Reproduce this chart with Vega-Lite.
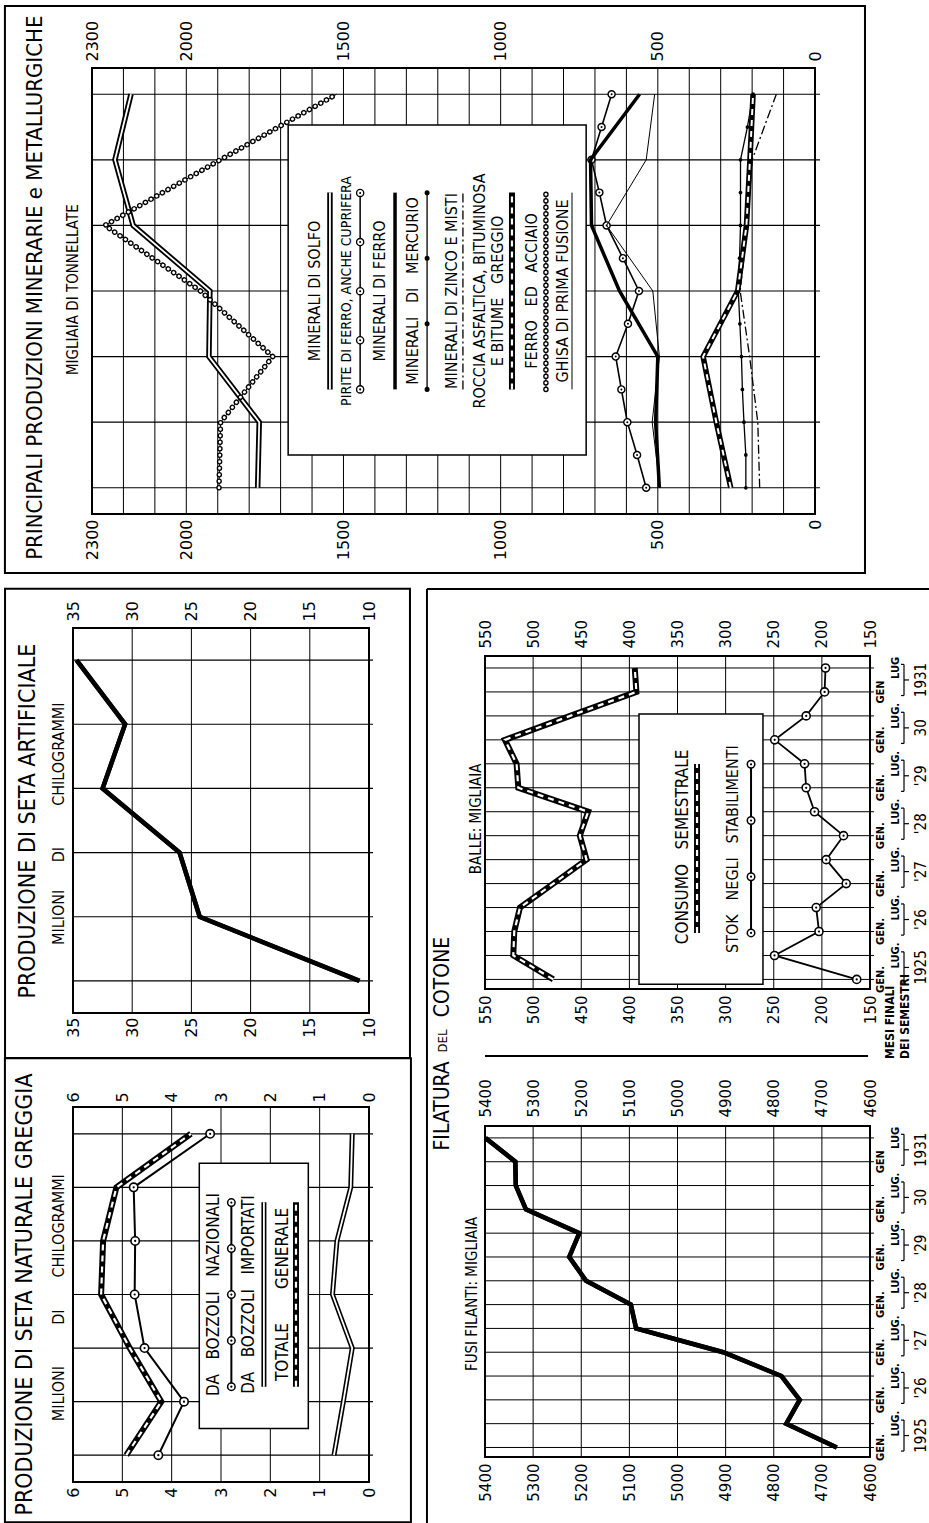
{
"background": "white",
"padding": {"left": 1, "top": 4, "right": 0, "bottom": 0},
"config": {
 "view": {"stroke": "black", "strokeWidth": 2},
 "axis": {"grid": false, "domain": false, "ticks": false, "labelColor": "black", "labelFont": "DejaVu Sans", "labelFlush": false, "labelOverlap": false},
 "line": {"color": "black"}, "rule": {"color": "black"}, "text": {"color": "black"}, "point": {"color": "black"}
},
"datasets": {
 "min": [
  {"s":"solfo","yr":1925,"v":1773},{"s":"solfo","yr":1926,"v":1768},{"s":"solfo","yr":1927,"v":1928},{"s":"solfo","yr":1928,"v":1925},{"s":"solfo","yr":1929,"v":2169},{"s":"solfo","yr":1930,"v":2227},{"s":"solfo","yr":1931,"v":2176},
  {"s":"acciaio","yr":1925,"v":1896},{"s":"acciaio","yr":1926,"v":1891},{"s":"acciaio","yr":1927,"v":1725},{"s":"acciaio","yr":1928,"v":1955},{"s":"acciaio","yr":1929,"v":2259},{"s":"acciaio","yr":1930,"v":1892},{"s":"acciaio","yr":1931,"v":1522},
  {"s":"pirite","yr":1925,"v":537},{"s":"pirite","yr":1925.5,"v":566},{"s":"pirite","yr":1926,"v":597},{"s":"pirite","yr":1926.5,"v":616},{"s":"pirite","yr":1927,"v":634},{"s":"pirite","yr":1927.5,"v":595},{"s":"pirite","yr":1928,"v":560},{"s":"pirite","yr":1928.5,"v":611},{"s":"pirite","yr":1929,"v":663},{"s":"pirite","yr":1929.5,"v":686},{"s":"pirite","yr":1930,"v":711},{"s":"pirite","yr":1930.5,"v":679},{"s":"pirite","yr":1931,"v":647},
  {"s":"ferro","yr":1925,"v":495},{"s":"ferro","yr":1926,"v":507},{"s":"ferro","yr":1927,"v":500},{"s":"ferro","yr":1928,"v":622},{"s":"ferro","yr":1929,"v":711},{"s":"ferro","yr":1930,"v":714},{"s":"ferro","yr":1931,"v":558},
  {"s":"ghisa","yr":1925,"v":493},{"s":"ghisa","yr":1926,"v":518},{"s":"ghisa","yr":1927,"v":495},{"s":"ghisa","yr":1928,"v":516},{"s":"ghisa","yr":1929,"v":663},{"s":"ghisa","yr":1930,"v":537},{"s":"ghisa","yr":1931,"v":510},
  {"s":"mercurio","yr":1925,"v":220},{"s":"mercurio","yr":1925.5,"v":220},{"s":"mercurio","yr":1926,"v":226},{"s":"mercurio","yr":1926.5,"v":231},{"s":"mercurio","yr":1927,"v":234},{"s":"mercurio","yr":1927.5,"v":239},{"s":"mercurio","yr":1928,"v":244},{"s":"mercurio","yr":1928.5,"v":240},{"s":"mercurio","yr":1929,"v":237},{"s":"mercurio","yr":1929.5,"v":237},{"s":"mercurio","yr":1930,"v":237},{"s":"mercurio","yr":1930.5,"v":215},{"s":"mercurio","yr":1931,"v":197},
  {"s":"zinco","yr":1925,"v":176},{"s":"zinco","yr":1926,"v":182},{"s":"zinco","yr":1927,"v":208},{"s":"zinco","yr":1928,"v":238},{"s":"zinco","yr":1929,"v":215},{"s":"zinco","yr":1930,"v":200},{"s":"zinco","yr":1931,"v":123},
  {"s":"roccia","yr":1925,"v":268},{"s":"roccia","yr":1926,"v":314},{"s":"roccia","yr":1927,"v":356},{"s":"roccia","yr":1928,"v":246},{"s":"roccia","yr":1929,"v":218},{"s":"roccia","yr":1930,"v":207},{"s":"roccia","yr":1931,"v":197}
 ],
 "sa": [{"yr":1926,"v":10.8},{"yr":1927,"v":24.3},{"yr":1928,"v":26.0},{"yr":1929,"v":32.5},{"yr":1930,"v":30.6},{"yr":1931,"v":34.7}],
 "sn": [
  {"s":"tot","yr":1925,"v":4.92},{"s":"tot","yr":1926,"v":4.21},{"s":"tot","yr":1927,"v":4.85},{"s":"tot","yr":1928,"v":5.43},{"s":"tot","yr":1929,"v":5.39},{"s":"tot","yr":1930,"v":5.12},{"s":"tot","yr":1931,"v":3.61},
  {"s":"naz","yr":1925,"v":4.27},{"s":"naz","yr":1926,"v":3.75},{"s":"naz","yr":1927,"v":4.55},{"s":"naz","yr":1928,"v":4.75},{"s":"naz","yr":1929,"v":4.74},{"s":"naz","yr":1930,"v":4.77},{"s":"naz","yr":1931,"v":3.22},
  {"s":"imp","yr":1925,"v":0.71},{"s":"imp","yr":1926,"v":0.52},{"s":"imp","yr":1927,"v":0.34},{"s":"imp","yr":1928,"v":0.74},{"s":"imp","yr":1929,"v":0.65},{"s":"imp","yr":1930,"v":0.37},{"s":"imp","yr":1931,"v":0.34}
 ],
 "balle": [
  {"s":"cons","t":0,"v":479},{"s":"cons","t":1,"v":520.6},{"s":"cons","t":2,"v":519.6},{"s":"cons","t":3,"v":513.7},{"s":"cons","t":4,"v":479},{"s":"cons","t":5,"v":444.5},{"s":"cons","t":6,"v":451.5},{"s":"cons","t":7,"v":442.8},{"s":"cons","t":8,"v":515.4},{"s":"cons","t":9,"v":517.2},{"s":"cons","t":10,"v":529.3},{"s":"cons","t":11,"v":461.5},{"s":"cons","t":12,"v":392.7},{"s":"cons","t":13,"v":394.4},
  {"s":"stok","t":0,"v":163.8},{"s":"stok","t":1,"v":249.2},{"s":"stok","t":2,"v":203},{"s":"stok","t":3,"v":205.9},{"s":"stok","t":4,"v":174.7},{"s":"stok","t":5,"v":195.5},{"s":"stok","t":6,"v":177.5},{"s":"stok","t":7,"v":207.6},{"s":"stok","t":8,"v":216.3},{"s":"stok","t":9,"v":218},{"s":"stok","t":10,"v":249},{"s":"stok","t":11,"v":216.3},{"s":"stok","t":12,"v":197.2},{"s":"stok","t":13,"v":196.2}
 ],
 "fusi": [{"t":0,"v":4669},{"t":1,"v":4774},{"t":2,"v":4746},{"t":3,"v":4784},{"t":4,"v":4905},{"t":5,"v":5086},{"t":6,"v":5097},{"t":7,"v":5190},{"t":8,"v":5225},{"t":9,"v":5204},{"t":10,"v":5315},{"t":11,"v":5336},{"t":12,"v":5337},{"t":13,"v":5399}],
 "sem": [{"t":0,"lab":"GEN."},{"t":1,"lab":"LUG."},{"t":2,"lab":"GEN."},{"t":3,"lab":"LUG."},{"t":4,"lab":"GEN."},{"t":5,"lab":"LUG."},{"t":6,"lab":"GEN."},{"t":7,"lab":"LUG."},{"t":8,"lab":"GEN."},{"t":9,"lab":"LUG."},{"t":10,"lab":"GEN."},{"t":11,"lab":"LUG."},{"t":12,"lab":"GEN"},{"t":13,"lab":"LUG"}],
 "anni": [{"t0":-0.15,"t1":1.15,"tm":0.5,"lab":"1925"},{"t0":1.85,"t1":3.15,"tm":2.5,"lab":"'26"},{"t0":3.85,"t1":5.15,"tm":4.5,"lab":"'27"},{"t0":5.85,"t1":7.15,"tm":6.5,"lab":"'28"},{"t0":7.85,"t1":9.15,"tm":8.5,"lab":"'29"},{"t0":9.85,"t1":11.15,"tm":10.5,"lab":"30"},{"t0":11.85,"t1":13.15,"tm":12.5,"lab":"1931"}],
 "yrs": [{"g":1925},{"g":1926},{"g":1927},{"g":1928},{"g":1929},{"g":1930},{"g":1931}],
 "g100": [{"g":0},{"g":100},{"g":200},{"g":300},{"g":400},{"g":500},{"g":600},{"g":700},{"g":800},{"g":900},{"g":1000},{"g":1100},{"g":1200},{"g":1300},{"g":1400},{"g":1500},{"g":1600},{"g":1700},{"g":1800},{"g":1900},{"g":2000},{"g":2100},{"g":2200}],
 "g5": [{"g":15},{"g":20},{"g":25},{"g":30}],
 "g1": [{"g":1},{"g":2},{"g":3},{"g":4},{"g":5}],
 "g50": [{"g":200},{"g":250},{"g":300},{"g":350},{"g":400},{"g":450},{"g":500}],
 "g100f": [{"g":4700},{"g":4800},{"g":4900},{"g":5000},{"g":5100},{"g":5200},{"g":5300}]
},
"spacing": 9,
"vconcat": [
 {"spacing": 0, "hconcat": [
  {"width": 1, "height": 1, "view": {"stroke": null}, "data": {"values": [{}]}, "mark": {"type": "rect", "opacity": 0}, "encoding": {}},
  {
  "width": 723, "height": 446,
  "data": {"name": "min"},
  "resolve": {"axis": {"x": "independent"}},
  "layer": [
   {"data": {"values": [{}]}, "mark": {"type": "rect", "filled": false, "stroke": "black", "strokeWidth": 2},
    "encoding": {"x": {"datum": 2577, "axis": null}, "x2": {"datum": -159}, "y": {"datum": 1923.7, "axis": null}, "y2": {"datum": 1932.345}}},
   {"data": {"name": "g100"}, "mark": {"type": "rule", "strokeWidth": 1},
    "encoding": {"x": {"field": "g", "type": "quantitative", "axis": null}, "y": {"datum": 1924.6, "axis": null}, "y2": {"datum": 1931.4}}},
   {"data": {"name": "yrs"}, "mark": {"type": "rule", "strokeWidth": 1.2},
    "encoding": {"y": {"field": "g", "type": "quantitative", "axis": null}, "x": {"datum": 2300, "axis": null}, "x2": {"datum": -16}}},
   {"transform": [{"filter": "datum.s == 'solfo'"}], "mark": {"type": "line", "strokeWidth": 5.5},
    "encoding": {
     "x": {"field": "v", "type": "quantitative", "scale": {"domain": [0, 2300], "reverse": true, "nice": false, "zero": false},
      "axis": {"orient": "bottom", "title": null, "values": [0,500,1000,1500,2000,2300], "format": "d", "labelAngle": 270, "labelAlign": "right", "labelBaseline": "middle", "labelPadding": 5, "labelFontSize": 16}},
     "y": {"field": "yr", "type": "quantitative", "scale": {"domain": [1924.6, 1931.4], "nice": false, "zero": false},
      "axis": {"orient": "right", "title": null, "values": [1925,1926,1927,1928,1929,1930,1931], "format": "d", "labelAngle": 270, "labelAlign": "center", "labelBaseline": "top", "labelPadding": 8, "labelFontSize": 15}},
     "order": {"field": "yr", "type": "quantitative"}}},
   {"transform": [{"filter": "datum.s == 'solfo'"}], "mark": {"type": "line", "strokeWidth": 1.8, "color": "white"},
    "encoding": {
     "x": {"field": "v", "type": "quantitative",
      "axis": {"orient": "top", "title": null, "values": [0,500,1000,1500,2000,2300], "format": "d", "labelAngle": 270, "labelAlign": "left", "labelBaseline": "middle", "labelPadding": 7, "labelFontSize": 16}},
     "y": {"field": "yr", "type": "quantitative", "axis": null},
     "order": {"field": "yr", "type": "quantitative"}}},
   {"transform": [{"filter": "datum.s == 'acciaio'"}], "mark": {"type": "line", "strokeWidth": 1},
    "encoding": {"x": {"field": "v", "type": "quantitative", "axis": null}, "y": {"field": "yr", "type": "quantitative", "axis": null}, "order": {"field": "yr", "type": "quantitative"}}},
   {"transform": [{"filter": "datum.s == 'acciaio'"}], "mark": {"type": "line", "strokeWidth": 5.5, "strokeDash": [0.1, 6.4], "strokeCap": "round"},
    "encoding": {"x": {"field": "v", "type": "quantitative", "axis": null}, "y": {"field": "yr", "type": "quantitative", "axis": null}, "order": {"field": "yr", "type": "quantitative"}}},
   {"transform": [{"filter": "datum.s == 'acciaio'"}], "mark": {"type": "line", "strokeWidth": 2.8, "strokeDash": [0.1, 6.4], "strokeCap": "round", "color": "white"},
    "encoding": {"x": {"field": "v", "type": "quantitative", "axis": null}, "y": {"field": "yr", "type": "quantitative", "axis": null}, "order": {"field": "yr", "type": "quantitative"}}},
   {"data": {"values": [{}]}, "mark": {"type": "rect", "fill": "white", "stroke": "black", "strokeWidth": 1.5},
    "encoding": {"x": {"datum": 1676, "axis": null}, "x2": {"datum": 728}, "y": {"datum": 1925.5, "axis": null}, "y2": {"datum": 1930.53}}},
   {"transform": [{"filter": "datum.s == 'pirite'"}], "mark": {"type": "line", "strokeWidth": 1.6},
    "encoding": {"x": {"field": "v", "type": "quantitative", "axis": null}, "y": {"field": "yr", "type": "quantitative", "axis": null}, "order": {"field": "yr", "type": "quantitative"}}},
   {"transform": [{"filter": "datum.s == 'pirite'"}], "mark": {"type": "point", "shape": "circle", "filled": true, "fill": "white", "stroke": "black", "strokeWidth": 1.4, "size": 50, "opacity": 1},
    "encoding": {"x": {"field": "v", "type": "quantitative", "axis": null}, "y": {"field": "yr", "type": "quantitative", "axis": null}}},
   {"transform": [{"filter": "datum.s == 'pirite'"}], "mark": {"type": "point", "shape": "circle", "filled": true, "color": "black", "size": 4, "opacity": 1},
    "encoding": {"x": {"field": "v", "type": "quantitative", "axis": null}, "y": {"field": "yr", "type": "quantitative", "axis": null}}},
   {"transform": [{"filter": "datum.s == 'ferro'"}], "mark": {"type": "line", "strokeWidth": 3.5},
    "encoding": {"x": {"field": "v", "type": "quantitative", "axis": null}, "y": {"field": "yr", "type": "quantitative", "axis": null}, "order": {"field": "yr", "type": "quantitative"}}},
   {"transform": [{"filter": "datum.s == 'ghisa'"}], "mark": {"type": "line", "strokeWidth": 1},
    "encoding": {"x": {"field": "v", "type": "quantitative", "axis": null}, "y": {"field": "yr", "type": "quantitative", "axis": null}, "order": {"field": "yr", "type": "quantitative"}}},
   {"transform": [{"filter": "datum.s == 'mercurio'"}], "mark": {"type": "line", "strokeWidth": 1.3},
    "encoding": {"x": {"field": "v", "type": "quantitative", "axis": null}, "y": {"field": "yr", "type": "quantitative", "axis": null}, "order": {"field": "yr", "type": "quantitative"}}},
   {"transform": [{"filter": "datum.s == 'mercurio'"}], "mark": {"type": "point", "shape": "circle", "filled": true, "size": 14, "opacity": 1},
    "encoding": {"x": {"field": "v", "type": "quantitative", "axis": null}, "y": {"field": "yr", "type": "quantitative", "axis": null}}},
   {"transform": [{"filter": "datum.s == 'zinco'"}], "mark": {"type": "line", "strokeWidth": 1.3, "strokeDash": [9, 3, 2, 3]},
    "encoding": {"x": {"field": "v", "type": "quantitative", "axis": null}, "y": {"field": "yr", "type": "quantitative", "axis": null}, "order": {"field": "yr", "type": "quantitative"}}},
   {"transform": [{"filter": "datum.s == 'roccia'"}], "mark": {"type": "line", "strokeWidth": 5.5},
    "encoding": {"x": {"field": "v", "type": "quantitative", "axis": null}, "y": {"field": "yr", "type": "quantitative", "axis": null}, "order": {"field": "yr", "type": "quantitative"}}},
   {"transform": [{"filter": "datum.s == 'roccia'"}], "mark": {"type": "line", "strokeWidth": 2, "strokeDash": [6, 5], "color": "white"},
    "encoding": {"x": {"field": "v", "type": "quantitative", "axis": null}, "y": {"field": "yr", "type": "quantitative", "axis": null}, "order": {"field": "yr", "type": "quantitative"}}},
   {"data": {"values": [{}]}, "mark": {"type": "text", "text": "PRINCIPALI PRODUZIONI MINERARIE e METALLURGICHE", "angle": 270, "align": "center", "baseline": "middle", "font": "Liberation Sans Narrow, DejaVu Sans Condensed, sans-serif", "fontSize": 22},
    "encoding": {"x": {"datum": 2481, "axis": null}, "y": {"datum": 1928.05, "axis": null}}},
   {"data": {"values": [{}]}, "mark": {"type": "text", "text": "MIGLIAIA DI TONNELLATE", "angle": 270, "align": "center", "baseline": "middle", "font": "Liberation Sans Narrow, DejaVu Sans Condensed, sans-serif", "fontSize": 15},
    "encoding": {"x": {"datum": 2362, "axis": null}, "y": {"datum": 1928.02, "axis": null}}},
   {"data": {"values": [{}]}, "mark": {"type": "text", "text": "MINERALI DI SOLFO", "angle": 270, "align": "center", "baseline": "middle", "font": "Liberation Sans Narrow, DejaVu Sans Condensed, sans-serif", "fontSize": 16},
    "encoding": {"x": {"datum": 1591, "axis": null}, "y": {"datum": 1928, "axis": null}}},
   {"data": {"values": [{}]}, "mark": {"type": "rule", "strokeWidth": 5.5},
    "encoding": {"x": {"datum": 1543, "axis": null}, "y": {"datum": 1926.5, "axis": null}, "y2": {"datum": 1929.5}}},
   {"data": {"values": [{}]}, "mark": {"type": "rule", "strokeWidth": 1.8, "color": "white"},
    "encoding": {"x": {"datum": 1543, "axis": null}, "y": {"datum": 1926.5, "axis": null}, "y2": {"datum": 1929.5}}},
   {"data": {"values": [{}]}, "mark": {"type": "text", "text": "PIRITE DI FERRO, ANCHE CUPRIFERA", "angle": 270, "align": "center", "baseline": "middle", "font": "Liberation Sans Narrow, DejaVu Sans Condensed, sans-serif", "fontSize": 14},
    "encoding": {"x": {"datum": 1489, "axis": null}, "y": {"datum": 1928, "axis": null}}},
   {"data": {"values": [{}]}, "mark": {"type": "rule", "strokeWidth": 1.5},
    "encoding": {"x": {"datum": 1447, "axis": null}, "y": {"datum": 1926.5, "axis": null}, "y2": {"datum": 1929.5}}},
   {"data": {"values": [{}]}, "mark": {"type": "rule", "strokeWidth": 8.5, "strokeDash": [0.01, 49.1], "strokeCap": "round"},
    "encoding": {"x": {"datum": 1447, "axis": null}, "y": {"datum": 1926.5, "axis": null}, "y2": {"datum": 1929.5}}},
   {"data": {"values": [{}]}, "mark": {"type": "rule", "strokeWidth": 5.8, "strokeDash": [0.01, 49.1], "strokeCap": "round", "color": "white"},
    "encoding": {"x": {"datum": 1447, "axis": null}, "y": {"datum": 1926.5, "axis": null}, "y2": {"datum": 1929.5}}},
   {"data": {"values": [{}]}, "mark": {"type": "rule", "strokeWidth": 2, "strokeDash": [0.01, 49.1], "strokeCap": "round"},
    "encoding": {"x": {"datum": 1447, "axis": null}, "y": {"datum": 1926.5, "axis": null}, "y2": {"datum": 1929.5}}},
   {"data": {"values": [{}]}, "mark": {"type": "text", "text": "MINERALI DI FERRO", "angle": 270, "align": "center", "baseline": "middle", "font": "Liberation Sans Narrow, DejaVu Sans Condensed, sans-serif", "fontSize": 16},
    "encoding": {"x": {"datum": 1384, "axis": null}, "y": {"datum": 1928, "axis": null}}},
   {"data": {"values": [{}]}, "mark": {"type": "rule", "strokeWidth": 3.5},
    "encoding": {"x": {"datum": 1336, "axis": null}, "y": {"datum": 1926.5, "axis": null}, "y2": {"datum": 1929.5}}},
   {"data": {"values": [{}]}, "mark": {"type": "text", "text": "MINERALI\u00a0\u00a0\u00a0DI\u00a0\u00a0\u00a0MERCURIO", "angle": 270, "align": "center", "baseline": "middle", "font": "Liberation Sans Narrow, DejaVu Sans Condensed, sans-serif", "fontSize": 16},
    "encoding": {"x": {"datum": 1279, "axis": null}, "y": {"datum": 1928, "axis": null}}},
   {"data": {"values": [{}]}, "mark": {"type": "rule", "strokeWidth": 1.3},
    "encoding": {"x": {"datum": 1234, "axis": null}, "y": {"datum": 1926.5, "axis": null}, "y2": {"datum": 1929.5}}},
   {"data": {"values": [{}]}, "mark": {"type": "rule", "strokeWidth": 5, "strokeDash": [0.01, 65.5], "strokeCap": "round"},
    "encoding": {"x": {"datum": 1234, "axis": null}, "y": {"datum": 1926.5, "axis": null}, "y2": {"datum": 1929.5}}},
   {"data": {"values": [{}]}, "mark": {"type": "text", "text": "MINERALI DI ZINCO E MISTI", "angle": 270, "align": "center", "baseline": "middle", "font": "Liberation Sans Narrow, DejaVu Sans Condensed, sans-serif", "fontSize": 16},
    "encoding": {"x": {"datum": 1155, "axis": null}, "y": {"datum": 1928, "axis": null}}},
   {"data": {"values": [{}]}, "mark": {"type": "rule", "strokeWidth": 1.3, "strokeDash": [9, 3, 2, 3]},
    "encoding": {"x": {"datum": 1120, "axis": null}, "y": {"datum": 1926.5, "axis": null}, "y2": {"datum": 1929.5}}},
   {"data": {"values": [{}]}, "mark": {"type": "text", "text": "ROCCIA ASFALTICA, BITUMINOSA", "angle": 270, "align": "center", "baseline": "middle", "font": "Liberation Sans Narrow, DejaVu Sans Condensed, sans-serif", "fontSize": 16},
    "encoding": {"x": {"datum": 1066, "axis": null}, "y": {"datum": 1928, "axis": null}}},
   {"data": {"values": [{}]}, "mark": {"type": "text", "text": "E BITUME\u00a0\u00a0\u00a0GREGGIO", "angle": 270, "align": "center", "baseline": "middle", "font": "Liberation Sans Narrow, DejaVu Sans Condensed, sans-serif", "fontSize": 16},
    "encoding": {"x": {"datum": 1008, "axis": null}, "y": {"datum": 1928, "axis": null}}},
   {"data": {"values": [{}]}, "mark": {"type": "rule", "strokeWidth": 6},
    "encoding": {"x": {"datum": 964, "axis": null}, "y": {"datum": 1926.5, "axis": null}, "y2": {"datum": 1929.5}}},
   {"data": {"values": [{}]}, "mark": {"type": "rule", "strokeWidth": 2.2, "strokeDash": [6, 5], "color": "white"},
    "encoding": {"x": {"datum": 964, "axis": null}, "y": {"datum": 1926.5, "axis": null}, "y2": {"datum": 1929.5}}},
   {"data": {"values": [{}]}, "mark": {"type": "text", "text": "FERRO\u00a0\u00a0\u00a0ED\u00a0\u00a0\u00a0ACCIAIO", "angle": 270, "align": "center", "baseline": "middle", "font": "Liberation Sans Narrow, DejaVu Sans Condensed, sans-serif", "fontSize": 16},
    "encoding": {"x": {"datum": 900, "axis": null}, "y": {"datum": 1928, "axis": null}}},
   {"data": {"values": [{}]}, "mark": {"type": "rule", "strokeWidth": 1},
    "encoding": {"x": {"datum": 856, "axis": null}, "y": {"datum": 1926.5, "axis": null}, "y2": {"datum": 1929.5}}},
   {"data": {"values": [{}]}, "mark": {"type": "rule", "strokeWidth": 5.5, "strokeDash": [0.1, 6.4], "strokeCap": "round"},
    "encoding": {"x": {"datum": 856, "axis": null}, "y": {"datum": 1926.5, "axis": null}, "y2": {"datum": 1929.5}}},
   {"data": {"values": [{}]}, "mark": {"type": "rule", "strokeWidth": 2.8, "strokeDash": [0.1, 6.4], "strokeCap": "round", "color": "white"},
    "encoding": {"x": {"datum": 856, "axis": null}, "y": {"datum": 1926.5, "axis": null}, "y2": {"datum": 1929.5}}},
   {"data": {"values": [{}]}, "mark": {"type": "text", "text": "GHISA DI PRIMA FUSIONE", "angle": 270, "align": "center", "baseline": "middle", "font": "Liberation Sans Narrow, DejaVu Sans Condensed, sans-serif", "fontSize": 16},
    "encoding": {"x": {"datum": 802, "axis": null}, "y": {"datum": 1928, "axis": null}}},
   {"data": {"values": [{}]}, "mark": {"type": "rule", "strokeWidth": 1},
    "encoding": {"x": {"datum": 773, "axis": null}, "y": {"datum": 1926.5, "axis": null}, "y2": {"datum": 1929.5}}}
  ]
 }]},
 {"spacing": 0, "hconcat": [
  {"width": 1, "height": 1, "view": {"stroke": null}, "data": {"values": [{}]}, "mark": {"type": "rect", "opacity": 0}, "encoding": {}},
  {"spacing": 11, "hconcat": [
   {"spacing": 0, "vconcat": [
    {"width": 1, "height": 1, "view": {"stroke": null}, "data": {"values": [{}]}, "mark": {"type": "rect", "opacity": 0}, "encoding": {}},
    {
    "spacing": 94, "bounds": "flush",
    "vconcat": [
     {
      "width": 296, "height": 385,
      "data": {"name": "sa"},
      "resolve": {"axis": {"x": "independent"}},
      "layer": [
       {"data": {"values": [{}]}, "mark": {"type": "rect", "filled": false, "stroke": "black", "strokeWidth": 2},
        "encoding": {"x": {"datum": 40.74, "axis": null}, "x2": {"datum": 6.54}, "y": {"datum": 1924.8, "axis": null}, "y2": {"datum": 1932.11}}},
       {"data": {"name": "g5"}, "mark": {"type": "rule", "strokeWidth": 1},
        "encoding": {"x": {"field": "g", "type": "quantitative", "axis": null}, "y": {"datum": 1925.5, "axis": null}, "y2": {"datum": 1931.5}}},
       {"data": {"name": "yrs"}, "transform": [{"filter": "datum.g >= 1926"}], "mark": {"type": "rule", "strokeWidth": 1.2},
        "encoding": {"y": {"field": "g", "type": "quantitative", "axis": null}, "x": {"datum": 35, "axis": null}, "x2": {"datum": 9.66}}},
       {"mark": {"type": "line", "strokeWidth": 4.5},
        "encoding": {
         "x": {"field": "v", "type": "quantitative", "scale": {"domain": [10, 35], "reverse": true, "nice": false, "zero": false},
          "axis": {"orient": "bottom", "title": null, "values": [10,15,20,25,30,35], "format": "d", "labelAngle": 270, "labelAlign": "right", "labelBaseline": "middle", "labelPadding": 4, "labelFontSize": 16}},
         "y": {"field": "yr", "type": "quantitative", "scale": {"domain": [1925.5, 1931.5], "nice": false, "zero": false},
          "axis": {"orient": "right", "title": null, "values": [1926,1927,1928,1929,1930,1931], "format": "d", "labelExpr": "datum.value == 1926 || datum.value == 1931 ? datum.label : \"'\" + substring(datum.label, 2)", "labelAngle": 270, "labelAlign": "center", "labelBaseline": "top", "labelPadding": 7, "labelFontSize": 15}},
         "order": {"field": "yr", "type": "quantitative"}}},
       {"mark": {"type": "line", "strokeWidth": 4.5},
        "encoding": {
         "x": {"field": "v", "type": "quantitative",
          "axis": {"orient": "top", "title": null, "values": [10,15,20,25,30,35], "format": "d", "labelAngle": 270, "labelAlign": "left", "labelBaseline": "middle", "labelPadding": 7, "labelFontSize": 16}},
         "y": {"field": "yr", "type": "quantitative", "axis": null},
         "order": {"field": "yr", "type": "quantitative"}}},
       {"data": {"values": [{}]}, "mark": {"type": "text", "text": "PRODUZIONE DI SETA ARTIFICIALE", "angle": 270, "align": "center", "baseline": "middle", "font": "Liberation Sans Narrow, DejaVu Sans Condensed, sans-serif", "fontSize": 23},
        "encoding": {"x": {"datum": 38.76, "axis": null}, "y": {"datum": 1928.49, "axis": null}}},
       {"data": {"values": [{}]}, "mark": {"type": "text", "text": "MILIONI\u00a0\u00a0\u00a0\u00a0\u00a0\u00a0DI\u00a0\u00a0\u00a0\u00a0\u00a0\u00a0\u00a0\u00a0\u00a0CHILOGRAMMI", "angle": 270, "align": "center", "baseline": "middle", "font": "Liberation Sans Narrow, DejaVu Sans Condensed, sans-serif", "fontSize": 16},
        "encoding": {"x": {"datum": 36.18, "axis": null}, "y": {"datum": 1928.45, "axis": null}}}
      ]
     },
     {
      "width": 296, "height": 375,
      "data": {"name": "sn"},
      "resolve": {"axis": {"x": "independent"}},
      "layer": [
       {"data": {"values": [{}]}, "mark": {"type": "rect", "filled": false, "stroke": "black", "strokeWidth": 2},
        "encoding": {"x": {"datum": 7.38, "axis": null}, "x2": {"datum": -0.85}, "y": {"datum": 1923.75, "axis": null}, "y2": {"datum": 1932.41}}},
       {"data": {"name": "g1"}, "mark": {"type": "rule", "strokeWidth": 1},
        "encoding": {"x": {"field": "g", "type": "quantitative", "axis": null}, "y": {"datum": 1924.5, "axis": null}, "y2": {"datum": 1931.5}}},
       {"data": {"name": "yrs"}, "mark": {"type": "rule", "strokeWidth": 1.2},
        "encoding": {"y": {"field": "g", "type": "quantitative", "axis": null}, "x": {"datum": 6, "axis": null}, "x2": {"datum": -0.08}}},
       {"transform": [{"filter": "datum.s == 'tot'"}], "mark": {"type": "line", "strokeWidth": 6},
        "encoding": {
         "x": {"field": "v", "type": "quantitative", "scale": {"domain": [0, 6], "reverse": true, "nice": false, "zero": false},
          "axis": {"orient": "bottom", "title": null, "values": [0,1,2,3,4,5,6], "format": "d", "labelAngle": 270, "labelAlign": "right", "labelBaseline": "middle", "labelPadding": 5, "labelFontSize": 16}},
         "y": {"field": "yr", "type": "quantitative", "scale": {"domain": [1924.5, 1931.5], "nice": false, "zero": false},
          "axis": {"orient": "right", "title": null, "values": [1925,1926,1927,1928,1929,1930,1931], "format": "d", "labelExpr": "datum.value == 1925 || datum.value == 1931 ? datum.label : \"'\" + substring(datum.label, 2)", "labelAngle": 270, "labelAlign": "center", "labelBaseline": "top", "labelPadding": 7, "labelFontSize": 15}},
         "order": {"field": "yr", "type": "quantitative"}}},
       {"transform": [{"filter": "datum.s == 'tot'"}], "mark": {"type": "line", "strokeWidth": 2.2, "strokeDash": [6, 5], "color": "white"},
        "encoding": {
         "x": {"field": "v", "type": "quantitative",
          "axis": {"orient": "top", "title": null, "values": [0,1,2,3,4,5,6], "format": "d", "labelAngle": 270, "labelAlign": "left", "labelBaseline": "middle", "labelPadding": 5, "labelFontSize": 16}},
         "y": {"field": "yr", "type": "quantitative", "axis": null},
         "order": {"field": "yr", "type": "quantitative"}}},
       {"transform": [{"filter": "datum.s == 'imp'"}], "mark": {"type": "line", "strokeWidth": 5},
        "encoding": {"x": {"field": "v", "type": "quantitative", "axis": null}, "y": {"field": "yr", "type": "quantitative", "axis": null}, "order": {"field": "yr", "type": "quantitative"}}},
       {"transform": [{"filter": "datum.s == 'imp'"}], "mark": {"type": "line", "strokeWidth": 1.8, "color": "white"},
        "encoding": {"x": {"field": "v", "type": "quantitative", "axis": null}, "y": {"field": "yr", "type": "quantitative", "axis": null}, "order": {"field": "yr", "type": "quantitative"}}},
       {"transform": [{"filter": "datum.s == 'naz'"}], "mark": {"type": "line", "strokeWidth": 2},
        "encoding": {"x": {"field": "v", "type": "quantitative", "axis": null}, "y": {"field": "yr", "type": "quantitative", "axis": null}, "order": {"field": "yr", "type": "quantitative"}}},
       {"transform": [{"filter": "datum.s == 'naz'"}], "mark": {"type": "point", "shape": "circle", "filled": true, "fill": "white", "stroke": "black", "strokeWidth": 1.6, "size": 70, "opacity": 1},
        "encoding": {"x": {"field": "v", "type": "quantitative", "axis": null}, "y": {"field": "yr", "type": "quantitative", "axis": null}}},
       {"transform": [{"filter": "datum.s == 'naz'"}], "mark": {"type": "point", "shape": "circle", "filled": true, "color": "black", "size": 5, "opacity": 1},
        "encoding": {"x": {"field": "v", "type": "quantitative", "axis": null}, "y": {"field": "yr", "type": "quantitative", "axis": null}}},
       {"data": {"values": [{}]}, "mark": {"type": "rect", "fill": "white", "stroke": "black", "strokeWidth": 1.5},
        "encoding": {"x": {"datum": 3.44, "axis": null}, "x2": {"datum": 1.23}, "y": {"datum": 1925.5, "axis": null}, "y2": {"datum": 1930.45}}},
       {"data": {"values": [{}]}, "mark": {"type": "text", "text": "DA\u00a0\u00a0\u00a0BOZZOLI\u00a0\u00a0\u00a0NAZIONALI", "angle": 270, "align": "center", "baseline": "middle", "font": "Liberation Sans Narrow, DejaVu Sans Condensed, sans-serif", "fontSize": 17},
        "encoding": {"x": {"datum": 3.14, "axis": null}, "y": {"datum": 1928, "axis": null}}},
       {"data": {"values": [{}]}, "mark": {"type": "rule", "strokeWidth": 2},
        "encoding": {"x": {"datum": 2.79, "axis": null}, "y": {"datum": 1926.28, "axis": null}, "y2": {"datum": 1929.72}}},
       {"data": {"values": [{}]}, "mark": {"type": "rule", "strokeWidth": 9, "strokeDash": [0.01, 46], "strokeCap": "round"},
        "encoding": {"x": {"datum": 2.79, "axis": null}, "y": {"datum": 1926.28, "axis": null}, "y2": {"datum": 1929.72}}},
       {"data": {"values": [{}]}, "mark": {"type": "rule", "strokeWidth": 6, "strokeDash": [0.01, 46], "strokeCap": "round", "color": "white"},
        "encoding": {"x": {"datum": 2.79, "axis": null}, "y": {"datum": 1926.28, "axis": null}, "y2": {"datum": 1929.72}}},
       {"data": {"values": [{}]}, "mark": {"type": "rule", "strokeWidth": 2.2, "strokeDash": [0.01, 46], "strokeCap": "round"},
        "encoding": {"x": {"datum": 2.79, "axis": null}, "y": {"datum": 1926.28, "axis": null}, "y2": {"datum": 1929.72}}},
       {"data": {"values": [{}]}, "mark": {"type": "text", "text": "DA\u00a0\u00a0\u00a0BOZZOLI\u00a0\u00a0\u00a0IMPORTATI", "angle": 270, "align": "center", "baseline": "middle", "font": "Liberation Sans Narrow, DejaVu Sans Condensed, sans-serif", "fontSize": 17},
        "encoding": {"x": {"datum": 2.43, "axis": null}, "y": {"datum": 1928, "axis": null}}},
       {"data": {"values": [{}]}, "mark": {"type": "rule", "strokeWidth": 5},
        "encoding": {"x": {"datum": 2.13, "axis": null}, "y": {"datum": 1926.28, "axis": null}, "y2": {"datum": 1929.72}}},
       {"data": {"values": [{}]}, "mark": {"type": "rule", "strokeWidth": 1.8, "color": "white"},
        "encoding": {"x": {"datum": 2.13, "axis": null}, "y": {"datum": 1926.28, "axis": null}, "y2": {"datum": 1929.72}}},
       {"data": {"values": [{}]}, "mark": {"type": "text", "text": "TOTALE\u00a0\u00a0\u00a0\u00a0\u00a0\u00a0\u00a0GENERALE", "angle": 270, "align": "center", "baseline": "middle", "font": "Liberation Sans Narrow, DejaVu Sans Condensed, sans-serif", "fontSize": 17},
        "encoding": {"x": {"datum": 1.74, "axis": null}, "y": {"datum": 1928, "axis": null}}},
       {"data": {"values": [{}]}, "mark": {"type": "rule", "strokeWidth": 6},
        "encoding": {"x": {"datum": 1.48, "axis": null}, "y": {"datum": 1926.28, "axis": null}, "y2": {"datum": 1929.72}}},
       {"data": {"values": [{}]}, "mark": {"type": "rule", "strokeWidth": 2.2, "strokeDash": [6, 5], "color": "white"},
        "encoding": {"x": {"datum": 1.48, "axis": null}, "y": {"datum": 1926.28, "axis": null}, "y2": {"datum": 1929.72}}},
       {"data": {"values": [{}]}, "mark": {"type": "text", "text": "PRODUZIONE DI SETA  NATURALE GREGGIA", "angle": 270, "align": "center", "baseline": "middle", "font": "Liberation Sans Narrow, DejaVu Sans Condensed, sans-serif", "fontSize": 23},
        "encoding": {"x": {"datum": 6.97, "axis": null}, "y": {"datum": 1928.0, "axis": null}}},
       {"data": {"values": [{}]}, "mark": {"type": "text", "text": "MILIONI\u00a0\u00a0\u00a0\u00a0\u00a0\u00a0\u00a0\u00a0\u00a0DI\u00a0\u00a0\u00a0\u00a0\u00a0\u00a0\u00a0CHILOGRAMMI", "angle": 270, "align": "center", "baseline": "middle", "font": "Liberation Sans Narrow, DejaVu Sans Condensed, sans-serif", "fontSize": 16},
        "encoding": {"x": {"datum": 6.28, "axis": null}, "y": {"datum": 1927.94, "axis": null}}}
      ]
     }
    ]
   }]},
   {"spacing": 0, "vconcat": [
    {"width": 1, "height": 1, "view": {"stroke": null}, "data": {"values": [{}]}, "mark": {"type": "rect", "opacity": 0}, "encoding": {}},
    {
    "spacing": 137, "bounds": "flush",
    "vconcat": [
     {
      "width": 385, "height": 333,
      "data": {"name": "balle"},
      "resolve": {"axis": {"x": "independent"}},
      "layer": [
       {"data": {"values": [{}]}, "mark": {"type": "rule", "strokeWidth": 2},
        "encoding": {"x": {"datum": 610.3, "axis": null}, "y": {"datum": 16.3, "axis": null}, "y2": {"datum": -22.73}}},
       {"data": {"values": [{}]}, "mark": {"type": "rule", "strokeWidth": 2},
        "encoding": {"x": {"datum": 610.3, "axis": null}, "x2": {"datum": 88.7}, "y": {"datum": 16.3, "axis": null}}},
       {"data": {"name": "g50"}, "mark": {"type": "rule", "strokeWidth": 1},
        "encoding": {"x": {"field": "g", "type": "quantitative", "axis": null}, "y": {"datum": -0.4, "axis": null}, "y2": {"datum": 13.5}}},
       {"data": {"name": "sem"}, "mark": {"type": "rule", "strokeWidth": 1},
        "encoding": {"y": {"field": "t", "type": "quantitative", "axis": null}, "x": {"datum": 550, "axis": null}, "x2": {"datum": 145.8}}},
       {"transform": [{"filter": "datum.s == 'cons'"}], "mark": {"type": "line", "strokeWidth": 6},
        "encoding": {
         "x": {"field": "v", "type": "quantitative", "scale": {"domain": [150, 550], "reverse": true, "nice": false, "zero": false},
          "axis": {"orient": "bottom", "title": null, "values": [150,200,250,300,350,400,450,500,550], "format": "d", "labelAngle": 270, "labelAlign": "right", "labelBaseline": "middle", "labelPadding": 6, "labelFontSize": 15}},
         "y": {"field": "t", "type": "quantitative", "scale": {"domain": [-0.4, 13.5], "nice": false, "zero": false}, "axis": null},
         "order": {"field": "t", "type": "quantitative"}}},
       {"transform": [{"filter": "datum.s == 'cons'"}], "mark": {"type": "line", "strokeWidth": 2.2, "strokeDash": [6, 5], "color": "white"},
        "encoding": {
         "x": {"field": "v", "type": "quantitative",
          "axis": {"orient": "top", "title": null, "values": [150,200,250,300,350,400,450,500,550], "format": "d", "labelAngle": 270, "labelAlign": "left", "labelBaseline": "middle", "labelPadding": 8, "labelFontSize": 15}},
         "y": {"field": "t", "type": "quantitative", "axis": null},
         "order": {"field": "t", "type": "quantitative"}}},
       {"data": {"values": [{}]}, "mark": {"type": "rect", "fill": "white", "stroke": "black", "strokeWidth": 1.5},
        "encoding": {"x": {"datum": 390, "axis": null}, "x2": {"datum": 261.2}, "y": {"datum": -0.2, "axis": null}, "y2": {"datum": 11.08}}},
       {"transform": [{"filter": "datum.s == 'stok'"}], "mark": {"type": "line", "strokeWidth": 1.8},
        "encoding": {"x": {"field": "v", "type": "quantitative", "axis": null}, "y": {"field": "t", "type": "quantitative", "axis": null}, "order": {"field": "t", "type": "quantitative"}}},
       {"transform": [{"filter": "datum.s == 'stok'"}], "mark": {"type": "point", "shape": "circle", "filled": true, "fill": "white", "stroke": "black", "strokeWidth": 1.6, "size": 65, "opacity": 1},
        "encoding": {"x": {"field": "v", "type": "quantitative", "axis": null}, "y": {"field": "t", "type": "quantitative", "axis": null}}},
       {"transform": [{"filter": "datum.s == 'stok'"}], "mark": {"type": "point", "shape": "circle", "filled": true, "color": "black", "size": 5, "opacity": 1},
        "encoding": {"x": {"field": "v", "type": "quantitative", "axis": null}, "y": {"field": "t", "type": "quantitative", "axis": null}}},
       {"data": {"values": [{}]}, "mark": {"type": "text", "text": "CONSUMO\u00a0\u00a0\u00a0SEMESTRALE", "angle": 270, "align": "center", "baseline": "middle", "font": "Liberation Sans Narrow, DejaVu Sans Condensed, sans-serif", "fontSize": 17},
        "encoding": {"x": {"datum": 344.3, "axis": null}, "y": {"datum": 5.53, "axis": null}}},
       {"data": {"values": [{}]}, "mark": {"type": "rule", "strokeWidth": 6},
        "encoding": {"x": {"datum": 329.7, "axis": null}, "y": {"datum": 1.94, "axis": null}, "y2": {"datum": 8.99}}},
       {"data": {"values": [{}]}, "mark": {"type": "rule", "strokeWidth": 2.2, "strokeDash": [6, 5], "color": "white"},
        "encoding": {"x": {"datum": 329.7, "axis": null}, "y": {"datum": 1.94, "axis": null}, "y2": {"datum": 8.99}}},
       {"data": {"values": [{}]}, "mark": {"type": "text", "text": "STOK\u00a0\u00a0\u00a0NEGLI\u00a0\u00a0\u00a0STABILIMENTI", "angle": 270, "align": "center", "baseline": "middle", "font": "Liberation Sans Narrow, DejaVu Sans Condensed, sans-serif", "fontSize": 16},
        "encoding": {"x": {"datum": 292.3, "axis": null}, "y": {"datum": 5.44, "axis": null}}},
       {"data": {"values": [{}]}, "mark": {"type": "rule", "strokeWidth": 2},
        "encoding": {"x": {"datum": 273.6, "axis": null}, "y": {"datum": 1.94, "axis": null}, "y2": {"datum": 8.99}}},
       {"data": {"values": [{}]}, "mark": {"type": "rule", "strokeWidth": 9, "strokeDash": [0.01, 56.2], "strokeCap": "round"},
        "encoding": {"x": {"datum": 273.6, "axis": null}, "y": {"datum": 1.94, "axis": null}, "y2": {"datum": 8.99}}},
       {"data": {"values": [{}]}, "mark": {"type": "rule", "strokeWidth": 6, "strokeDash": [0.01, 56.2], "strokeCap": "round", "color": "white"},
        "encoding": {"x": {"datum": 273.6, "axis": null}, "y": {"datum": 1.94, "axis": null}, "y2": {"datum": 8.99}}},
       {"data": {"values": [{}]}, "mark": {"type": "rule", "strokeWidth": 2.2, "strokeDash": [0.01, 56.2], "strokeCap": "round"},
        "encoding": {"x": {"datum": 273.6, "axis": null}, "y": {"datum": 1.94, "axis": null}, "y2": {"datum": 8.99}}},
       {"data": {"values": [{}]}, "mark": {"type": "text", "text": "BALLE: MIGLIAIA", "angle": 270, "align": "center", "baseline": "middle", "font": "Liberation Sans Narrow, DejaVu Sans Condensed, sans-serif", "fontSize": 15},
        "encoding": {"x": {"datum": 559.3, "axis": null}, "y": {"datum": 6.7, "axis": null}}},
       {"data": {"values": [{}]}, "mark": {"type": "text", "text": "FILATURA", "angle": 270, "align": "center", "baseline": "middle", "font": "Liberation Sans Narrow, DejaVu Sans Condensed, sans-serif", "fontSize": 21},
        "encoding": {"x": {"datum": 593.6, "axis": null}, "y": {"datum": -5.28, "axis": null}}},
       {"data": {"values": [{}]}, "mark": {"type": "text", "text": "DEL", "angle": 270, "align": "center", "baseline": "middle", "font": "Liberation Sans Narrow, DejaVu Sans Condensed, sans-serif", "fontSize": 13},
        "encoding": {"x": {"datum": 593.6, "axis": null}, "y": {"datum": -2.57, "axis": null}}},
       {"data": {"values": [{}]}, "mark": {"type": "text", "text": "COTONE", "angle": 270, "align": "center", "baseline": "middle", "font": "Liberation Sans Narrow, DejaVu Sans Condensed, sans-serif", "fontSize": 21},
        "encoding": {"x": {"datum": 593.6, "axis": null}, "y": {"datum": 0.1, "axis": null}}},
       {"data": {"values": [{}]}, "mark": {"type": "text", "text": "MESI FINALI", "angle": 270, "align": "left", "baseline": "middle", "font": "Liberation Sans Narrow, DejaVu Sans Condensed, sans-serif", "fontSize": 12, "fontWeight": "bold"},
        "encoding": {"x": {"datum": 129.2, "axis": null}, "y": {"datum": -3.32, "axis": null}}},
       {"data": {"values": [{}]}, "mark": {"type": "text", "text": "DEI SEMESTRI", "angle": 270, "align": "left", "baseline": "middle", "font": "Liberation Sans Narrow, DejaVu Sans Condensed, sans-serif", "fontSize": 12, "fontWeight": "bold"},
        "encoding": {"x": {"datum": 113.6, "axis": null}, "y": {"datum": -3.32, "axis": null}}},
       {"data": {"values": [{}]}, "mark": {"type": "rule", "strokeWidth": 2},
        "encoding": {"x": {"datum": 550, "axis": null}, "x2": {"datum": 152}, "y": {"datum": -3.2, "axis": null}}},
       {"data": {"name": "sem"}, "transform": [{"filter": "datum.t % 2 == 0"}], "mark": {"type": "text", "angle": 270, "align": "center", "baseline": "middle", "font": "Liberation Sans Narrow, DejaVu Sans Condensed, sans-serif", "fontSize": 11, "fontWeight": "bold"},
        "encoding": {"text": {"field": "lab"}, "x": {"datum": 138.57, "axis": null}, "y": {"field": "t", "type": "quantitative", "axis": null}}},
       {"data": {"name": "sem"}, "transform": [{"filter": "datum.t % 2 == 1"}], "mark": {"type": "text", "angle": 270, "align": "center", "baseline": "middle", "font": "Liberation Sans Narrow, DejaVu Sans Condensed, sans-serif", "fontSize": 11, "fontWeight": "bold"},
        "encoding": {"text": {"field": "lab"}, "x": {"datum": 122.99, "axis": null}, "y": {"field": "t", "type": "quantitative", "axis": null}}},
       {"data": {"name": "anni"}, "mark": {"type": "rule", "strokeWidth": 1.2},
        "encoding": {"x": {"datum": 114.67, "axis": null}, "y": {"field": "t0", "type": "quantitative", "axis": null}, "y2": {"field": "t1"}}},
       {"data": {"name": "anni"}, "mark": {"type": "rule", "strokeWidth": 1.2},
        "encoding": {"x": {"datum": 114.67, "axis": null}, "x2": {"datum": 109.48}, "y": {"field": "tm", "type": "quantitative", "axis": null}}},
       {"data": {"name": "anni"}, "mark": {"type": "rule", "strokeWidth": 1.2},
        "encoding": {"x": {"datum": 117.79, "axis": null}, "x2": {"datum": 114.67}, "y": {"field": "t0", "type": "quantitative", "axis": null}}},
       {"data": {"name": "anni"}, "mark": {"type": "rule", "strokeWidth": 1.2},
        "encoding": {"x": {"datum": 117.79, "axis": null}, "x2": {"datum": 114.67}, "y": {"field": "t1", "type": "quantitative", "axis": null}}},
       {"data": {"name": "anni"}, "mark": {"type": "text", "angle": 270, "align": "center", "baseline": "middle", "font": "Liberation Sans Narrow, DejaVu Sans Condensed, sans-serif", "fontSize": 15},
        "encoding": {"text": {"field": "lab"}, "x": {"datum": 97.0, "axis": null}, "y": {"field": "tm", "type": "quantitative", "axis": null}}}
      ]
     },
     {
      "width": 385, "height": 331,
      "data": {"name": "fusi"},
      "resolve": {"axis": {"x": "independent"}},
      "layer": [
       {"data": {"name": "g100f"}, "mark": {"type": "rule", "strokeWidth": 1},
        "encoding": {"x": {"field": "g", "type": "quantitative", "axis": null}, "y": {"datum": -0.4, "axis": null}, "y2": {"datum": 13.5}}},
       {"data": {"name": "sem"}, "mark": {"type": "rule", "strokeWidth": 1},
        "encoding": {"y": {"field": "t", "type": "quantitative", "axis": null}, "x": {"datum": 5400, "axis": null}, "x2": {"datum": 4591.7}}},
       {"mark": {"type": "line", "strokeWidth": 4.5},
        "encoding": {
         "x": {"field": "v", "type": "quantitative", "scale": {"domain": [4600, 5400], "reverse": true, "nice": false, "zero": false},
          "axis": {"orient": "bottom", "title": null, "values": [4600,4700,4800,4900,5000,5100,5200,5300,5400], "format": "d", "labelAngle": 270, "labelAlign": "right", "labelBaseline": "middle", "labelPadding": 6, "labelFontSize": 15}},
         "y": {"field": "t", "type": "quantitative", "scale": {"domain": [-0.4, 13.5], "nice": false, "zero": false}, "axis": null},
         "order": {"field": "t", "type": "quantitative"}}},
       {"mark": {"type": "line", "strokeWidth": 4.5},
        "encoding": {
         "x": {"field": "v", "type": "quantitative",
          "axis": {"orient": "top", "title": null, "values": [4600,4700,4800,4900,5000,5100,5200,5300,5400], "format": "d", "labelAngle": 270, "labelAlign": "left", "labelBaseline": "middle", "labelPadding": 9, "labelFontSize": 15}},
         "y": {"field": "t", "type": "quantitative", "axis": null},
         "order": {"field": "t", "type": "quantitative"}}},
       {"data": {"values": [{}]}, "mark": {"type": "text", "text": "FUSI FILANTI: MIGLIAIA", "angle": 270, "align": "center", "baseline": "middle", "font": "Liberation Sans Narrow, DejaVu Sans Condensed, sans-serif", "fontSize": 15},
        "encoding": {"x": {"datum": 5426, "axis": null}, "y": {"datum": 6.45, "axis": null}}},
       {"data": {"name": "sem"}, "transform": [{"filter": "datum.t % 2 == 0"}], "mark": {"type": "text", "angle": 270, "align": "center", "baseline": "middle", "font": "Liberation Sans Narrow, DejaVu Sans Condensed, sans-serif", "fontSize": 11, "fontWeight": "bold"},
        "encoding": {"text": {"field": "lab"}, "x": {"datum": 4577.1, "axis": null}, "y": {"field": "t", "type": "quantitative", "axis": null}}},
       {"data": {"name": "sem"}, "transform": [{"filter": "datum.t % 2 == 1"}], "mark": {"type": "text", "angle": 270, "align": "center", "baseline": "middle", "font": "Liberation Sans Narrow, DejaVu Sans Condensed, sans-serif", "fontSize": 11, "fontWeight": "bold"},
        "encoding": {"text": {"field": "lab"}, "x": {"datum": 4545.97, "axis": null}, "y": {"field": "t", "type": "quantitative", "axis": null}}},
       {"data": {"name": "anni"}, "mark": {"type": "rule", "strokeWidth": 1.2},
        "encoding": {"x": {"datum": 4529.35, "axis": null}, "y": {"field": "t0", "type": "quantitative", "axis": null}, "y2": {"field": "t1"}}},
       {"data": {"name": "anni"}, "mark": {"type": "rule", "strokeWidth": 1.2},
        "encoding": {"x": {"datum": 4529.35, "axis": null}, "x2": {"datum": 4518.96}, "y": {"field": "tm", "type": "quantitative", "axis": null}}},
       {"data": {"name": "anni"}, "mark": {"type": "rule", "strokeWidth": 1.2},
        "encoding": {"x": {"datum": 4535.58, "axis": null}, "x2": {"datum": 4529.35}, "y": {"field": "t0", "type": "quantitative", "axis": null}}},
       {"data": {"name": "anni"}, "mark": {"type": "rule", "strokeWidth": 1.2},
        "encoding": {"x": {"datum": 4535.58, "axis": null}, "x2": {"datum": 4529.35}, "y": {"field": "t1", "type": "quantitative", "axis": null}}},
       {"data": {"name": "anni"}, "mark": {"type": "text", "angle": 270, "align": "center", "baseline": "middle", "font": "Liberation Sans Narrow, DejaVu Sans Condensed, sans-serif", "fontSize": 15},
        "encoding": {"text": {"field": "lab"}, "x": {"datum": 4494.0, "axis": null}, "y": {"field": "tm", "type": "quantitative", "axis": null}}}
      ]
     }
    ]
   }]}
  ]}
 ]}
]
}
